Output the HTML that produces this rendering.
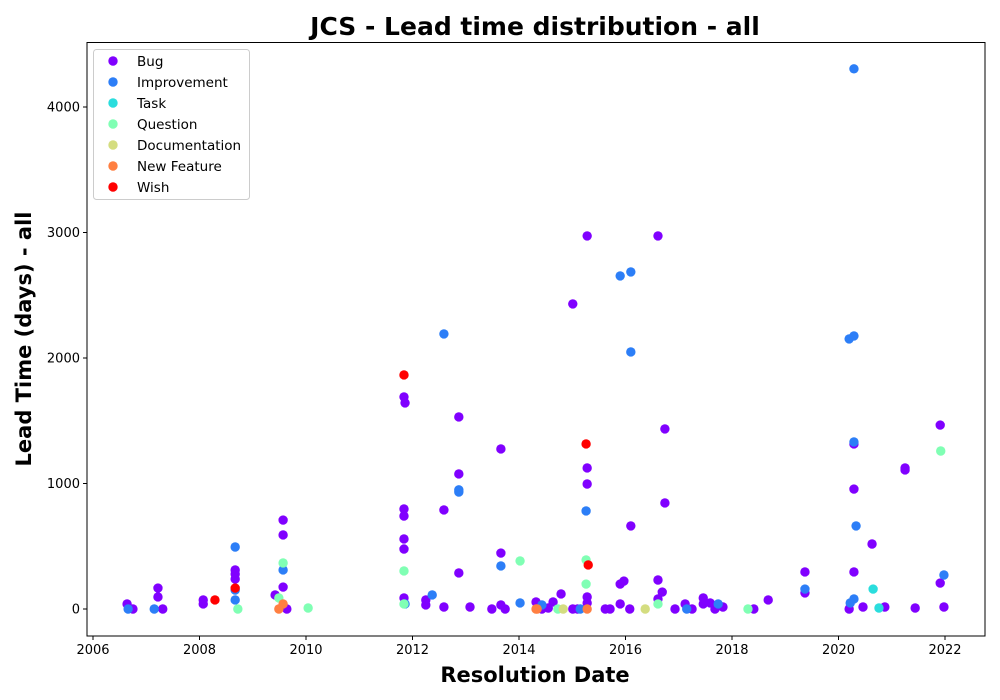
<!DOCTYPE html>
<html><head><meta charset="utf-8"><style>
body{margin:0;background:#fff;}
svg{display:block;font-family:"DejaVu Sans","Liberation Sans",sans-serif;}
</style></head><body>
<svg id="chart" width="1000" height="700" viewBox="0 0 1000 700">
<rect width="1000" height="700" fill="#fff"/>
<text x="535" y="35" text-anchor="middle" font-size="25" font-weight="bold">JCS - Lead time distribution - all</text>
<g id="points"></g>
<rect x="87" y="42.5" width="898" height="593.5" fill="none" stroke="#000" stroke-width="1"/>
<g id="xticks"></g>
<g id="yticks"></g>
<text x="535" y="682" text-anchor="middle" font-size="21" font-weight="bold">Resolution Date</text>
<text transform="translate(31,339) rotate(-90)" text-anchor="middle" font-size="21" font-weight="bold">Lead Time (days) - all</text>
<g id="legend">
<rect x="93.5" y="49.5" width="156" height="150" rx="3" fill="#fff" fill-opacity="0.8" stroke="#ccc"/>
</g>
</svg>
<script>
const types = ["Bug","Improvement","Task","Question","Documentation","New Feature","Wish"];
const colors = ["#8000ff","#2c7ef7","#2adddd","#80ffb4","#d4dd80","#ff7f41","#ff0000"];
const xTicks = [2006,2008,2010,2012,2014,2016,2018,2020,2022];
const yTicks = [0,1000,2000,3000,4000];
const bugDates = [2006.64,2006.75,2007.22,2007.22,2007.31,2008.07,2008.07,2008.67,2008.67,2008.67,2009.57,2009.57,2009.57,2009.42,2009.64,2011.84,2011.86,2012.87,2013.66,2012.87,2011.84,2011.84,2012.59,2011.84,2011.84,2013.66,2012.87,2011.84,2012.25,2012.25,2012.59,2013.08,2013.49,2013.66,2013.74,2014.32,2014.64,2014.79,2015.01,2015.28,2016.61,2015.01,2016.74,2015.28,2015.28,2016.10,2016.74,2015.28,2015.28,2015.62,2015.71,2015.90,2015.97,2015.90,2016.08,2016.61,2016.69,2016.61,2016.93,2017.25,2017.12,2017.46,2017.46,2017.59,2017.68,2017.83,2018.41,2018.68,2019.37,2019.37,2020.29,2020.29,2020.63,2021.25,2021.25,2021.91,2020.29,2021.91,2020.20,2020.46,2020.87,2021.44,2021.98,2014.43,2014.55,2015.10];
const bugDays = [40,0,167,96,0,72,40,311,279,239,709,590,175,112,0,1690,1642,1530,1275,1076,797,741,789,558,478,446,287,88,72,32,16,16,0,32,0,56,56,120,0,2973,2973,2431,1435,1124,996,662,845,96,48,0,0,199,223,40,0,231,135,80,0,0,40,88,40,48,0,16,0,72,295,128,1315,956,518,1124,1108,1466,295,207,0,16,16,8,16,0,8,0];
const impDates = [2006.66,2007.15,2008.67,2008.67,2008.67,2009.57,2012.37,2012.87,2012.59,2013.66,2014.02,2014.43,2015.15,2015.26,2015.90,2016.10,2016.10,2017.15,2017.74,2019.37,2020.29,2020.20,2020.29,2020.29,2020.33,2020.29,2020.22,2021.98,2012.87,2011.86];
const impDays = [0,0,494,151,72,311,112,932,2192,343,48,32,0,781,2654,2686,2048,0,40,159,4304,2152,2176,1331,662,80,48,271,950,40];
const taskDates = [2020.65,2020.76];
const taskDays = [159,8];
const qDates = [2008.72,2009.49,2009.57,2010.04,2011.84,2011.84,2014.02,2014.73,2015.26,2015.26,2016.61,2018.30,2021.92];
const qDays = [0,88,367,8,303,40,383,0,391,199,40,0,1259];
const docDates = [2014.83,2016.37];
const docDays = [0,0];
const nfDates = [2009.57,2009.49,2014.32,2014.34,2015.28];
const nfDays = [40,0,0,0,0];
const wishDates = [2008.29,2008.67,2011.84,2015.26,2015.30];
const wishDays = [72,167,1865,1315,351];

const NS="http://www.w3.org/2000/svg";
function xs(v){return 93+(v-2006)*53.25;}
function ys(v){return 609-v*0.1255;}
const series=[[bugDates,bugDays],[impDates,impDays],[taskDates,taskDays],[qDates,qDays],[docDates,docDays],[nfDates,nfDays],[wishDates,wishDays]];
const pg=document.getElementById('points');
series.forEach((s,i)=>{
  s[0].forEach((d,j)=>{
    const c=document.createElementNS(NS,'circle');
    c.setAttribute('cx',xs(d));c.setAttribute('cy',ys(s[1][j]));c.setAttribute('r',4.7);
    c.setAttribute('fill',colors[i]);
    
    
    pg.appendChild(c);
  });
});
const xg=document.getElementById('xticks');
xTicks.forEach(t=>{
  const l=document.createElementNS(NS,'line');
  l.setAttribute('x1',xs(t));l.setAttribute('x2',xs(t));l.setAttribute('y1',636);l.setAttribute('y2',640);l.setAttribute('stroke','#000');
  
  
  xg.appendChild(l);
  const tx=document.createElementNS(NS,'text');
  tx.setAttribute('x',xs(t));tx.setAttribute('y',654);tx.setAttribute('text-anchor','middle');tx.setAttribute('font-size','13');
  tx.textContent=t;
  
  
  xg.appendChild(tx);
});
const yg=document.getElementById('yticks');
yTicks.forEach(t=>{
  const l=document.createElementNS(NS,'line');
  l.setAttribute('x1',83);l.setAttribute('x2',87);l.setAttribute('y1',ys(t));l.setAttribute('y2',ys(t));l.setAttribute('stroke','#000');
  
  
  yg.appendChild(l);
  const tx=document.createElementNS(NS,'text');
  tx.setAttribute('x',80);tx.setAttribute('y',ys(t)+4.5);tx.setAttribute('text-anchor','end');tx.setAttribute('font-size','13');
  tx.textContent=t;
  
  
  yg.appendChild(tx);
});
const lg=document.getElementById('legend');
types.forEach((t,i)=>{
  const y=61+i*21;
  const c=document.createElementNS(NS,'circle');
  c.setAttribute('cx',113);c.setAttribute('cy',y);c.setAttribute('r',4.7);c.setAttribute('fill',colors[i]);
  
  
  lg.appendChild(c);
  const tx=document.createElementNS(NS,'text');
  tx.setAttribute('x',137);tx.setAttribute('y',y+5);tx.setAttribute('font-size','13.5');
  tx.textContent=t;
  
  
  lg.appendChild(tx);
});
</script>
</body></html>
